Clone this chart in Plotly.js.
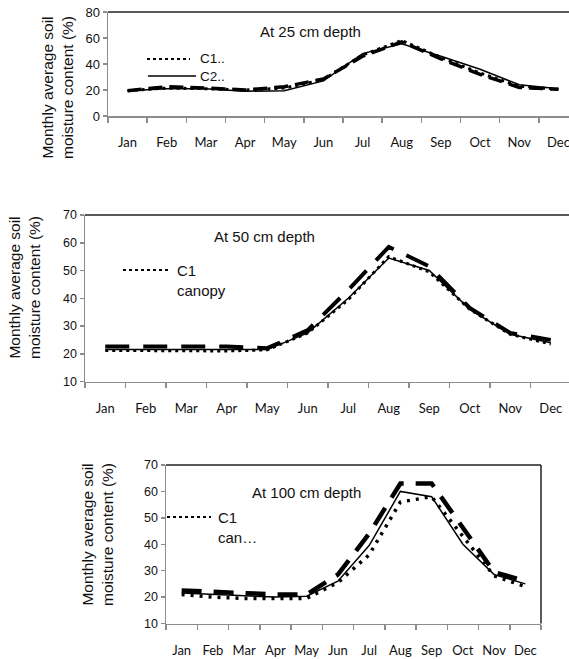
<!DOCTYPE html>
<html>
<head>
<meta charset="utf-8">
<script src="https://cdn.plot.ly/plotly-3.0.1.min.js"></script>
<style>html,body{margin:0;padding:0;background:#fff}#chart{width:569px;height:659px}</style>
</head>
<body>
<div id="chart"></div>
<script>
// ---- data ----
var months = ["Jan","Feb","Mar","Apr","May","Jun","Jul","Aug","Sep","Oct","Nov","Dec"];

// At 25 cm depth
var d25_c1 = [19.5, 21.5, 21, 20, 21.5, 28, 47, 58, 45, 33, 23, 20.5];     // dotted
var d25_c2 = [19.5, 21, 21, 19, 19.5, 27, 48, 55.5, 46, 36, 24, 21];       // solid
var d25_c3 = [19.5, 22.5, 21.5, 20, 22.5, 28.5, 46, 57, 44, 32, 22, 20.5]; // dashed

// At 50 cm depth
var d50_c1 = [21.2, 21.1, 21, 21, 21.4, 27.5, 39.5, 55, 49.5, 36, 27, 23.5];
var d50_c2 = [21.5, 21.5, 21.5, 21.5, 21.5, 27.5, 40, 54.5, 50, 36, 27, 24];
var d50_c3 = [22.6, 22.6, 22.6, 22.6, 22, 28.5, 43, 58.5, 51.5, 36.5, 27.5, 25];

// At 100 cm depth
var d100_c1 = [21, 20, 19.5, 19.5, 19.5, 25.5, 36, 56, 58, 43, 28, 24];
var d100_c2 = [21.5, 21, 20.5, 20, 20.3, 26, 39.5, 60, 58, 40, 28.5, 25];
var d100_c3 = [22.5, 22, 21.5, 21, 21, 28.5, 44, 63, 63, 46, 29.5, 26];

var titles = ["At 25 cm depth", "At 50 cm depth", "At 100 cm depth"];
var legend25 = "C1..<br>C2..";
var legend50 = "C1<br>canopy";
var legend100 = "C1<br>can…";
var yTitle = "Monthly average soil<br>moisture content (%)";

// ---- layout helpers ----
var W = 569, H = 659;
function px(x){ return x / W; }
function py(y){ return 1 - y / H; }

var AX = '#8c8c8c';
function xaxis(domain, range, anchor){
  return {type:'category', categoryorder:'array', categoryarray: months,
    domain: domain, range: range, anchor: anchor, tickangle: 0,
    tickson:'boundaries', ticks:'outside', ticklen:5, tickwidth:1.5, tickcolor:AX,
    showline:true, linecolor:AX, linewidth:1.5, showgrid:false, zeroline:false,
    tickfont:{family:'Lato', size:13, color:'#111'}, ticklabelstandoff:14, fixedrange:true};
}
function yaxis(domain, range, dtick, anchor, fs){
  return {domain: domain, range: range, dtick: dtick, anchor: anchor,
    ticks:'outside', ticklen:4, tickwidth:1.5, tickcolor:AX,
    showline:true, linecolor:AX, linewidth:1.5, showgrid:false, zeroline:false,
    tickfont:{family:'Liberation Sans, Arial', size:fs, color:'#111'}, fixedrange:true};
}

function tr(y, xa, ya, style){
  var line = {color:'#000'};
  if (style === 'dot') { line.width = 3; line.dash = '3px,4px'; }
  else if (style === 'solid') { line.width = 1.5; }
  else { line.width = style.w; line.dash = style.d; }
  return {x: months, y: y, xaxis: xa, yaxis: ya, type:'scatter', mode:'lines', line: line, showlegend:false, hoverinfo:'skip'};
}

var data = [
  tr(d25_c2, 'x', 'y', 'solid'),
  tr(d25_c1, 'x', 'y', 'dot'),
  tr(d25_c3, 'x', 'y', {w:3.5, d:'14px,7px'}),
  tr(d50_c2, 'x2', 'y2', 'solid'),
  tr(d50_c1, 'x2', 'y2', 'dot'),
  tr(d50_c3, 'x2', 'y2', {w:4, d:'24px,14px'}),
  tr(d100_c2, 'x3', 'y3', 'solid'),
  tr(d100_c1, 'x3', 'y3', {w:3.5, d:'3px,6px'}),
  tr(d100_c3, 'x3', 'y3', {w:4.5, d:'20px,12px'})
];

var shapes = [
  // plot frames (top / right)
  {type:'line', xref:'x domain', yref:'y domain', x0:0, x1:1, y0:1, y1:1, line:{color:'#222', width:1.5}},
  {type:'line', xref:'x2 domain', yref:'y2 domain', x0:0, x1:1, y0:1, y1:1, line:{color:'#222', width:1.5}},
  {type:'line', xref:'x3 domain', yref:'y3 domain', x0:0, x1:1, y0:1, y1:1, line:{color:'#222', width:1.5}},
  {type:'line', xref:'x3 domain', yref:'y3 domain', x0:1, x1:1, y0:0, y1:1, line:{color:'#222', width:1.5}},
  // legend samples
  {type:'line', xref:'paper', yref:'paper', x0:px(147), x1:px(190), y0:py(59), y1:py(59), line:{color:'#000', width:2, dash:'dot'}},
  {type:'line', xref:'paper', yref:'paper', x0:px(148), x1:px(196), y0:py(76), y1:py(76), line:{color:'#000', width:1.5}},
  {type:'line', xref:'paper', yref:'paper', x0:px(123), x1:px(170), y0:py(270), y1:py(270), line:{color:'#000', width:2, dash:'dot'}},
  {type:'line', xref:'paper', yref:'paper', x0:px(167), x1:px(211), y0:py(517), y1:py(517), line:{color:'#000', width:2, dash:'dot'}}
];

var tf = {family:'Liberation Sans, Arial', size:15, color:'#111'};
function ann(text, x, y, xanchor, extra){
  var a = {text:text, xref:'paper', yref:'paper', x:px(x), y:py(y), xanchor:xanchor||'left', yanchor:'middle', showarrow:false, font:tf, align:'left'};
  if (extra) for (var k in extra) a[k] = extra[k];
  return a;
}
var ytf = {family:'Liberation Sans, Arial', size:15.5, color:'#111'};
var annotations = [
  ann(titles[0], 310, 32, 'center'),
  ann(titles[1], 264, 236, 'center'),
  ann(titles[2], 306, 493, 'center'),
  ann(legend25, 198, 67.5, 'left', {font:{family:'Liberation Sans, Arial', size:13.5, color:'#111'}}),
  ann(legend50, 175, 280.5),
  ann(legend100, 216, 527.5),
  {text:yTitle, xref:'paper', yref:'paper', x:px(58), y:py(88), xanchor:'center', yanchor:'middle', textangle:-90, showarrow:false, font:ytf},
  {text:yTitle, xref:'paper', yref:'paper', x:px(24), y:py(288), xanchor:'center', yanchor:'middle', textangle:-90, showarrow:false, font:ytf},
  {text:yTitle, xref:'paper', yref:'paper', x:px(97), y:py(535), xanchor:'center', yanchor:'middle', textangle:-90, showarrow:false, font:ytf}
];

var layout = {
  width: W, height: H,
  margin: {l:0, r:0, t:0, b:0, pad:0},
  paper_bgcolor:'#fff', plot_bgcolor:'#fff',
  showlegend:false,
  xaxis:  xaxis([px(108), 1], [-0.5, 11.27], 'y'),
  yaxis:  yaxis([py(116), py(12)], [0, 80], 20, 'x', 13),
  xaxis2: xaxis([px(85), 1], [-0.5, 11.45], 'y2'),
  yaxis2: yaxis([py(381.5), py(215)], [10, 70], 10, 'x2', 12.5),
  xaxis3: xaxis([px(166), px(541)], [-0.5, 11.5], 'y3'),
  yaxis3: yaxis([py(623.5), py(465)], [10, 70], 10, 'x3', 12.5),
  shapes: shapes,
  annotations: annotations
};

Plotly.newPlot('chart', data, layout, {displayModeBar:false, staticPlot:true});
</script>
</body>
</html>
